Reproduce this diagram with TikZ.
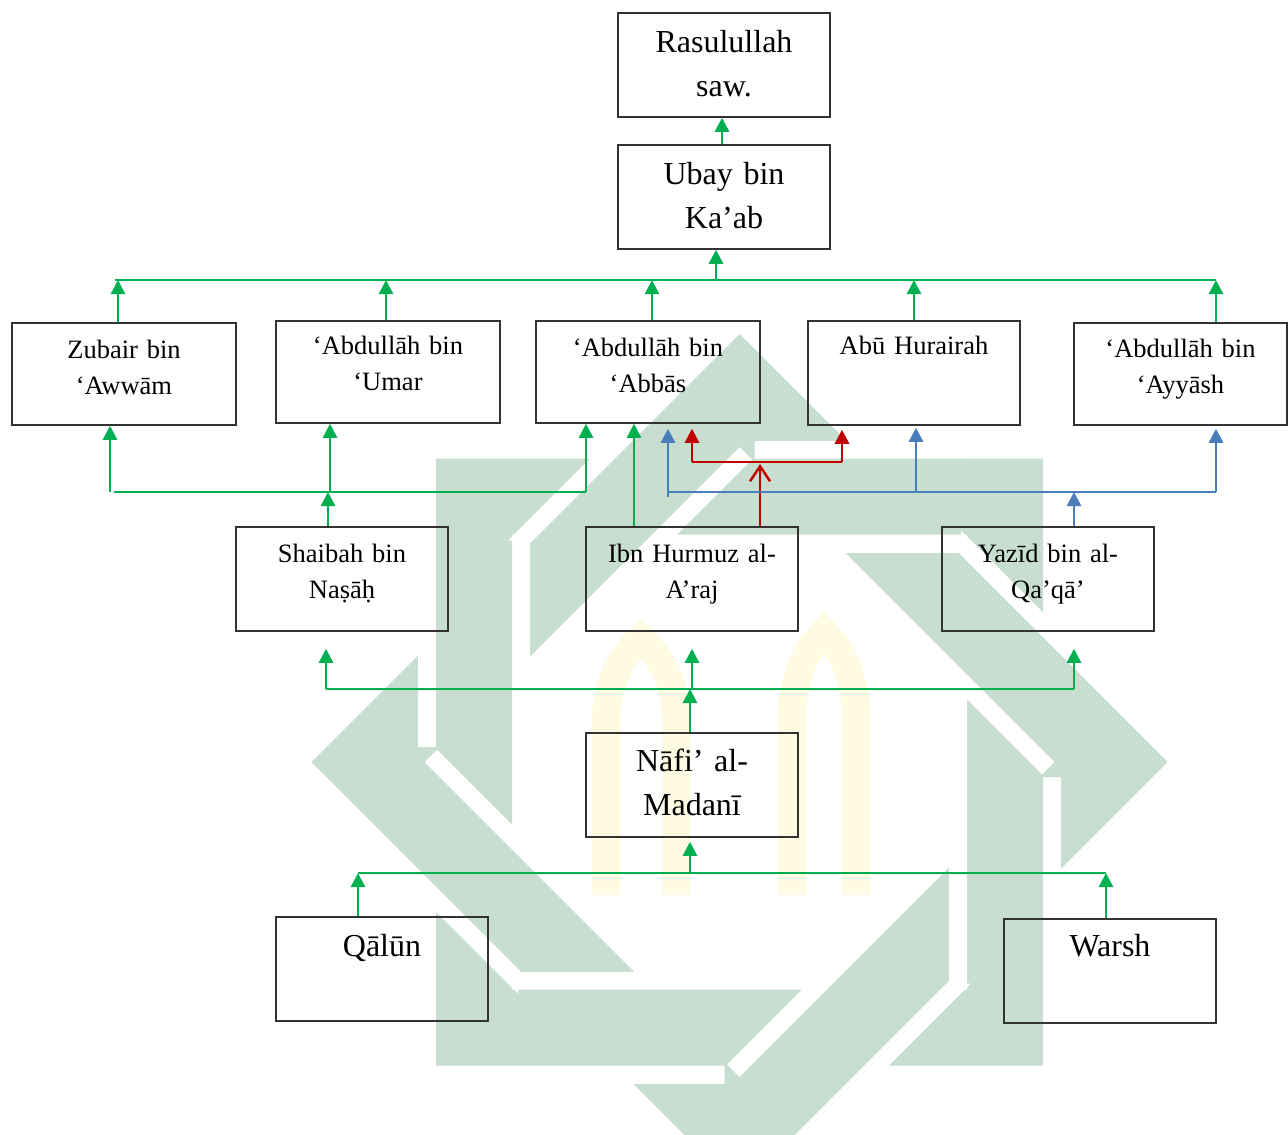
\documentclass[tikz,border=0pt]{standalone}
\usepackage{fontspec}
\setmainfont{Liberation Serif}
\usetikzlibrary{arrows.meta}
\definecolor{gr}{RGB}{0,176,80}
\definecolor{rd}{RGB}{192,0,0}
\definecolor{bl}{RGB}{74,126,187}
\definecolor{wm}{RGB}{200,222,208}
\definecolor{yl}{RGB}{255,251,226}
\definecolor{bd}{RGB}{50,50,50}
\tikzset{
  x=1pt, y=-1pt,
  box/.style={draw=bd, line width=1.5pt, inner sep=0pt, minimum width=212pt, minimum height=104pt},
  wbox/.style={box, minimum width=224pt, minimum height=102pt},
  big/.style={font=\fontsize{32}{44}\selectfont, anchor=base, align=center, text width=200pt, inner sep=0pt},
  sm/.style={font=\fontsize{26.5}{36}\selectfont, anchor=base, align=center, text width=205pt, inner sep=0pt},
  gl/.style={draw=gr, line width=2.5pt},
  ga/.style={gl, -{Triangle[width=14pt,length=14pt]}},
  rl/.style={draw=rd, line width=2.8pt},
  ra/.style={rl, -{Triangle[width=14pt,length=14pt]}},
  rb/.style={rl, -{Straight Barb[width=20pt,length=15pt,line width=2.5pt]}},
  bll/.style={draw=bl, line width=2.5pt},
  ba/.style={bll, -{Triangle[width=14pt,length=14pt]}},
  gap/.style={draw=white, line width=36pt},
}
\def\Spath{(436,458.5) rectangle (1043,1065.5) (512,534.5) rectangle (967,989.5)}
\def\Dpath{(739.5,334) -- (1167.5,762) -- (739.5,1190) -- (311.5,762) -- cycle (739.5,447) -- (1054.5,762) -- (739.5,1077) -- (424.5,762) -- cycle}
\begin{document}
\begin{tikzpicture}
\useasboundingbox (0,0) rectangle (1288,1135);
% watermark
\begin{scope}
\clip (0,0) rectangle (1288,1135);
\fill[wm, even odd rule] \Spath;
\fill[wm, even odd rule] \Dpath;
% square over diamond
\foreach \a in {0,90,180,270}{
  \begin{scope}[rotate around={\a:(739.5,762)}]
    \begin{scope}
      \clip (418,540) rectangle (530,762);
      \draw[gap] (436,300) -- (436,1000) (512,300) -- (512,1000);
    \end{scope}
    \begin{scope}
      \clip (417,539) rectangle (531,763);
      \fill[wm, even odd rule] \Spath;
    \end{scope}
  \end{scope}
}
% diamond over square
\foreach \a in {0,90,180,270}{
  \begin{scope}[rotate around={\a:(739.5,762)}]
    \begin{scope}
      \clip (400,748) -- (435.5,748) -- (518,830.5) -- (518,993.5) -- (400,875.5) -- cycle;
      \draw[gap] (311.5,762) -- (739.5,1190) (424.5,762) -- (739.5,1077);
    \end{scope}
    \begin{scope}
      \clip (399,747) -- (436,747) -- (519,830) -- (519,995) -- (399,877) -- cycle;
      \fill[wm, even odd rule] \Dpath;
    \end{scope}
  \end{scope}
}
\draw[yl, line width=28pt] (606,895) -- (606,720) .. controls (606,680) and (625,652) .. (641,638) .. controls (657,652) and (676,680) .. (676,720) -- (676,895);
\draw[yl, line width=28pt] (792,895) -- (792,720) .. controls (792,672) and (810,646) .. (824,632) .. controls (838,646) and (856,672) .. (856,720) -- (856,895);
\end{scope}
% boxes
\node[box] (ras) at (724,65) {};
\node[big] (rast) at ([yshift=-40pt]ras.north) {Rasulullah\\saw.};
\node[box] (uba) at (724,197) {};
\node[big] (ubat) at ([yshift=-40pt]uba.north) {Ubay bin\\Ka’ab};
\node[wbox] (zub) at (124,374) {};
\node[sm] (zubt) at ([yshift=-36pt]zub.north) {Zubair bin\\‘Awwām};
\node[wbox] (uma) at (388,372) {};
\node[sm] (umat) at ([yshift=-34pt]uma.north) {‘Abdullāh bin\\‘Umar};
\node[wbox] (abb) at (648,372) {};
\node[sm] (abbt) at ([yshift=-36pt]abb.north) {‘Abdullāh bin\\‘Abbās};
\node[box] (abu) at (914,373) {};
\node[sm] (abut) at ([yshift=-34pt]abu.north) {Abū Hurairah};
\node[box, minimum width=213pt, minimum height=102pt] (ayy) at (1180.5,374) {};
\node[sm] (ayyt) at ([yshift=-35pt]ayy.north) {‘Abdullāh bin\\‘Ayyāsh};
\node[box] (sha) at (342,579) {};
\node[sm] (shat) at ([yshift=-36pt]sha.north) {Shaibah bin\\Naṣāḥ};
\node[box] (hur) at (692,579) {};
\node[sm] (hurt) at ([yshift=-36pt]hur.north) {Ibn Hurmuz al-\\A’raj};
\node[box] (yaz) at (1048,579) {};
\node[sm] (yazt) at ([yshift=-36pt]yaz.north) {Yazīd bin al-\\Qa’qā’};
\node[box] (naf) at (692,785) {};
\node[big] (naft) at ([yshift=-39pt]naf.north) {Nāfi’ al-\\Madanī};
\node[box] (qal) at (382,969) {};
\node[big] (qalt) at ([yshift=-40pt]qal.north) {Qālūn};
\node[box] (war) at (1110,971) {};
\node[big] (wart) at ([yshift=-38pt]war.north) {Warsh};
% junction coordinates
\coordinate (b1l) at (115,280);
\coordinate (b1r) at (1216,280);
\coordinate (b2l) at (110,492);
\coordinate (b2r) at (586,492);
\coordinate (r1l) at (692,462);
\coordinate (r1r) at (842,462);
\coordinate (bll) at (668,497);
\coordinate (blr) at (1216,492);
\coordinate (b3l) at (326,689);
\coordinate (b3r) at (1074,689);
\coordinate (b4l) at (358,873);
\coordinate (b4r) at (1106,873);
% top
\draw[ga] ([xshift=-2pt]uba.north) -- ([xshift=-2pt]ras.south);
\draw[gl] (b1l) -- (b1r);
\draw[ga] (716,280) -- ([xshift=-8pt]uba.south);
\draw[ga] ([xshift=-6pt]zub.north) -- (118,280);
\draw[ga] ([xshift=-2pt]uma.north) -- (386,280);
\draw[ga] ([xshift=4pt]abb.north) -- (652,280);
\draw[ga] (abu.north) -- (914,280);
\draw[ga] ([xshift=35.5pt]ayy.north) -- (b1r);
% Shaibah
\draw[gl] (114,492) -- (b2r);
\draw[ga] ([xshift=-14pt]sha.north) -- (328,492);
\draw[ga] (b2l) -- ([xshift=-14pt]zub.south);
\draw[ga] (330,492) -- ([xshift=-58pt]uma.south);
\draw[ga] (b2r) -- ([xshift=-62pt]abb.south);
% Ibn Hurmuz
\draw[ga] ([xshift=-58pt]hur.north) -- ([xshift=-14pt]abb.south);
\draw[rb] ([xshift=68pt]hur.north) -- (760,464);
\draw[rl] (r1l) -- (r1r);
\draw[ra] (r1l) -- ([xshift=44pt,yshift=-5pt]abb.south);
\draw[ra] (r1r) -- ([xshift=-72pt,yshift=-4pt]abu.south);
% Yazid
\draw[bll] (bll) -- (668,492) -- (blr);
\draw[ba] ([xshift=26pt]yaz.north) -- (1074,492);
\draw[ba] (bll) -- ([xshift=20pt,yshift=-5pt]abb.south);
\draw[ba] (916,492) -- ([xshift=2pt,yshift=-2pt]abu.south);
\draw[ba] (blr) -- ([xshift=35.5pt,yshift=-3pt]ayy.south);
% Nafi
\draw[gl] (b3l) -- (b3r);
\draw[ga] ([xshift=-2pt]naf.north) -- (690,689);
\draw[ga] (b3l) -- ([xshift=-16pt,yshift=-17pt]sha.south);
\draw[ga] (692,689) -- ([yshift=-17pt]hur.south);
\draw[ga] (b3r) -- ([xshift=26pt,yshift=-17pt]yaz.south);
% Qalun / Warsh
\draw[gl] (b4l) -- (b4r);
\draw[ga] ([xshift=-24pt]qal.north) -- (b4l);
\draw[ga] ([xshift=-4pt]war.north) -- (b4r);
\draw[ga] (690,873) -- ([xshift=-2pt,yshift=-4pt]naf.south);
\end{tikzpicture}
\end{document}
